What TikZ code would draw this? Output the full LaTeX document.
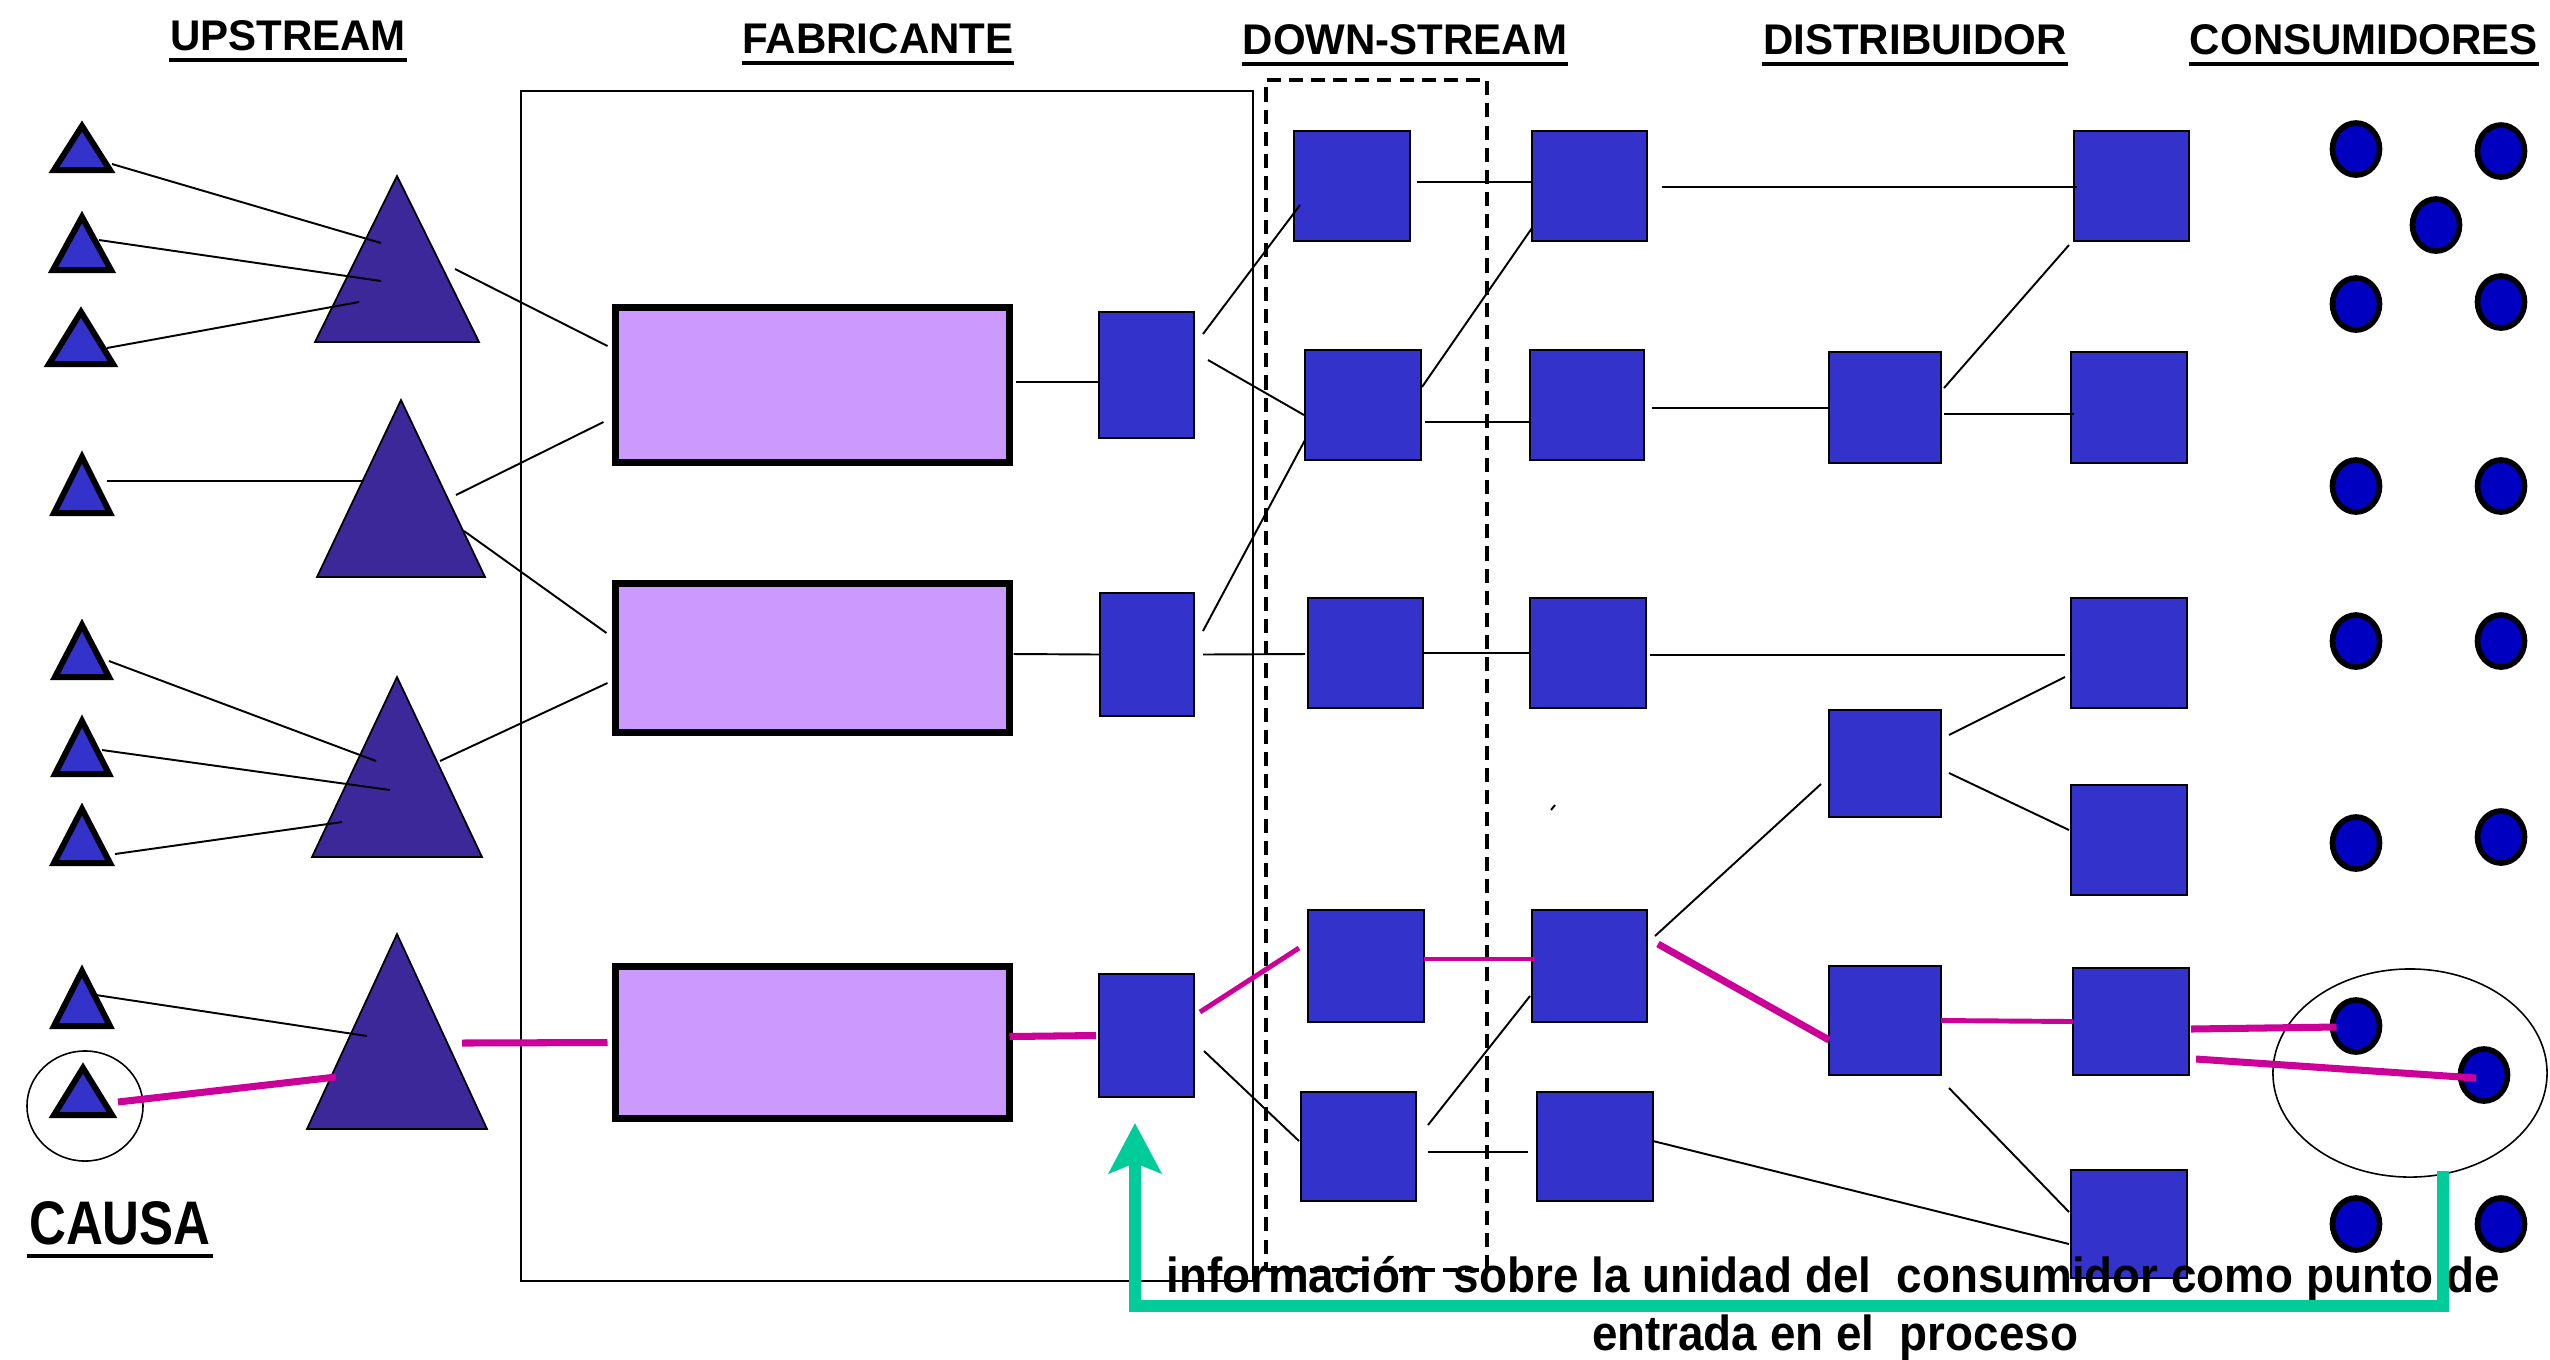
\documentclass[tikz,border=0pt]{standalone}
\usepackage{fontspec}
\usepackage{graphicx}
\setmainfont{Liberation Sans}
\usetikzlibrary{arrows.meta,shapes.geometric,fit,calc}
\definecolor{boxblue}{RGB}{51,51,204}
\definecolor{tridark}{RGB}{60,40,153}
\definecolor{lilac}{RGB}{204,153,255}
\definecolor{dotblue}{RGB}{0,0,192}
\definecolor{magline}{RGB}{204,0,153}
\definecolor{infogreen}{RGB}{0,204,153}

% name, cx, apex y, base y, outer half width
\newcommand{\smalltri}[5]{%
  \coordinate (#1) at (#2,#4);
  \filldraw[smalltri] (#2,#3+6) -- (#2+#5-5,#4-3) -- (#2-#5+5,#4-3) -- cycle;}
% name, cx, apex y, base y, half width
\newcommand{\bigtri}[5]{%
  \coordinate (#1) at (#2,#4);
  \filldraw[bigtri] (#2,#3) -- (#2+#5,#4) -- (#2-#5,#4) -- cycle;}
\newcommand{\bbox}[5]{\node[bluebox,fit={(#2,#3) (#4,#5)}] (#1) {};}

\begin{document}
\begin{tikzpicture}[x=0.01cm,y=-0.01cm,
  smalltri/.style={fill=boxblue,draw=black,line width=1.7pt,line join=miter},
  bigtri/.style={fill=tridark,draw=black,line width=0.5pt},
  bluebox/.style={rectangle,draw=black,line width=0.7pt,fill=boxblue,inner sep=0pt,outer sep=0pt},
  purplebox/.style={rectangle,draw=black,line width=2pt,fill=lilac,inner sep=0pt,outer sep=0pt},
  dotnode/.style={ellipse,draw=black,line width=1.6pt,fill=dotblue,inner sep=0pt,outer sep=0pt,minimum width=0.47cm,minimum height=0.52cm},
  ring/.style={ellipse,draw=black,line width=0.45pt,inner sep=0pt},
  conn/.style={draw=black,line width=0.55pt},
  magthick/.style={draw=magline,line width=2pt},
  magthin/.style={draw=magline,line width=1.4pt},
  frame/.style={rectangle,draw=black,line width=0.65pt,inner sep=0pt,outer sep=0pt},
  dashframe/.style={rectangle,draw=black,line width=1.2pt,dash pattern=on 4pt off 2.3pt,inner sep=0pt,outer sep=0pt},
  heading/.style={font=\bfseries\fontsize{12.2}{14}\selectfont,inner sep=0pt,anchor=base},
  uline/.style={line width=1.2pt},
  infotext/.style={font=\bfseries\fontsize{14}{16.5}\selectfont,inner sep=0pt,anchor=base},
  infoarrow/.style={draw=infogreen,line width=3.5pt,line join=miter,-{Stealth[length=0.5cm,width=0.52cm,inset=0.1cm]}}
]
\useasboundingbox (0,0) rectangle (2550,1359);
\fill[white] (0,0) rectangle (2550,1359);

% ---------- headings ----------
\node[heading] (hup)  at (288,50)  {\scalebox{0.98}[1]{UPSTREAM}};
\node[heading] (hfab) at (878,53)  {\scalebox{0.98}[1]{FABRICANTE}};
\node[heading] (hds)  at (1405,54) {\scalebox{0.98}[1]{DOWN-STREAM}};
\node[heading] (hdis) at (1915,54) {\scalebox{0.98}[1]{DISTRIBUIDOR}};
\node[heading] (hcon) at (2364,54) {\scalebox{0.98}[1]{CONSUMIDORES}};
\foreach \h in {hup,hfab,hds,hdis,hcon}
  \draw[uline] ([yshift=-2.8pt]\h.base west) -- ([yshift=-2.8pt]\h.base east);
\node[inner sep=0pt,anchor=base,font=\bfseries\fontsize{17.5}{20}\selectfont] (causa) at (120,1244) {\scalebox{0.83}[1]{CAUSA}};
\draw[line width=1.2pt] ([yshift=-3.4pt,xshift=-0.5pt]causa.base west) -- ([yshift=-3.4pt,xshift=0.5pt]causa.base east);

% ---------- frames ----------
\node[frame,fit={(521,91) (1253,1281)}] (fab) {};
\node[dashframe,fit={(1266,80) (1487,1270)}] (dsframe) {};

% ---------- upstream triangles ----------
\smalltri{t1}{82}{120}{173}{33}
\smalltri{t2}{82}{211}{273}{34}
\smalltri{t3}{81}{306}{367}{37}
\smalltri{t4}{82}{451}{516}{33}
\smalltri{t5}{82}{619}{680}{32}
\smalltri{t6}{82}{715}{777}{32}
\smalltri{t7}{82}{803}{866}{33}
\smalltri{t8}{82}{965}{1029}{33}
\smalltri{t9}{83}{1062}{1118}{34}
\node[ring,minimum width=1.16cm,minimum height=1.10cm] (ring1) at (85,1106) {};

\bigtri{T1}{397}{176}{342}{82}
\bigtri{T2}{401}{400}{577}{84}
\bigtri{T3}{397}{677}{857}{85}
\bigtri{T4}{397}{934}{1129}{90}

% ---------- manufacturer ----------
\node[purplebox,fit={(615.5,307.5) (1009.5,462.5)}] (P1) {};
\node[purplebox,fit={(615.5,583.5) (1009.5,732.5)}] (P2) {};
\node[purplebox,fit={(615.5,966.5) (1009.5,1118.5)}] (P3) {};

\bbox{B1}{1099}{312}{1194}{438}
\bbox{B2}{1100}{593}{1194}{716}
\bbox{B3}{1099}{974}{1194}{1097}

% ---------- down-stream ----------
\bbox{DS1}{1294}{131}{1410}{241}
\bbox{DS3}{1305}{350}{1421}{460}
\bbox{DS5}{1308}{598}{1423}{708}
\bbox{DS7}{1308}{910}{1424}{1022}
\bbox{DS9}{1301}{1092}{1416}{1201}
\bbox{DS2}{1532}{131}{1647}{241}
\bbox{DS4}{1530}{350}{1644}{460}
\bbox{DS6}{1530}{598}{1646}{708}
\bbox{DS8}{1532}{910}{1647}{1022}
\bbox{DS10}{1537}{1092}{1653}{1201}

% ---------- distributor ----------
\bbox{DB1}{1829}{352}{1941}{463}
\bbox{DB2}{1829}{710}{1941}{817}
\bbox{DB3}{1829}{966}{1941}{1075}
\bbox{D1}{2074}{131}{2189}{241}
\bbox{D2}{2071}{352}{2187}{463}
\bbox{D3}{2071}{598}{2187}{708}
\bbox{D4}{2071}{785}{2187}{895}
\bbox{D5}{2073}{968}{2189}{1075}
\bbox{D6}{2071}{1170}{2187}{1278}

% ---------- consumers ----------
\node[dotnode] (c1)  at (2356,149) {};
\node[dotnode] (c2)  at (2501,151) {};
\node[dotnode] (c3)  at (2436,225) {};
\node[dotnode] (c4)  at (2356,304) {};
\node[dotnode] (c5)  at (2501,302) {};
\node[dotnode] (c6)  at (2356,486) {};
\node[dotnode] (c7)  at (2501,486) {};
\node[dotnode] (c8)  at (2356,641) {};
\node[dotnode] (c9)  at (2501,641) {};
\node[dotnode] (c10) at (2356,843) {};
\node[dotnode] (c11) at (2501,837) {};
\node[dotnode] (cA)  at (2356,1026) {};
\node[dotnode] (cB)  at (2484,1075) {};
\node[dotnode] (c12) at (2356,1224) {};
\node[dotnode] (c13) at (2501,1224) {};
\node[ring,minimum width=2.74cm,minimum height=2.08cm] (ring2) at (2410,1073) {};

% ---------- black connectors ----------
\draw[conn] ($(t1)+(30,-9)$) -- ($(T1)+(-16,-99)$);
\draw[conn] ($(t2)+(17,-33)$) -- ($(T1)+(-16,-61)$);
\draw[conn] ($(t3)+(26,-19)$) -- ($(T1)+(-38,-40)$);
\draw[conn] ($(T1)+(58,-73)$) -- ($(P1.west)+(-8,-39)$);
\draw[conn] ($(t4)+(25,-35)$) -- ($(T2)+(-37,-96)$);
\draw[conn] ($(T2)+(55,-82)$) -- ($(P1.west)+(-12,37)$);
\draw[conn] ($(T2)+(63,-46)$) -- ($(P2.west)+(-9,-25)$);
\draw[conn] ($(t5)+(27,-19)$) -- ($(T3)+(-21,-96)$);
\draw[conn] ($(t6)+(20,-27)$) -- ($(T3)+(-7,-67)$);
\draw[conn] ($(t7)+(33,-12)$) -- ($(T3)+(-55,-35)$);
\draw[conn] ($(T3)+(43,-96)$) -- ($(P2.west)+(-8,25)$);
\draw[conn] ($(t8)+(14,-34)$) -- ($(T4)+(-30,-93)$);

\draw[conn] ($(P1.east)+(6,-3)$) -- ($(B1.west)+(0,7)$);
\draw[conn] ($(P2.east)+(4,-4)$) -- (B2.west);
\draw[conn] ($(B1.east)+(9,-41)$) -- ($(DS1.west)+(6,19)$);
\draw[conn] ($(B1.east)+(14,-15)$) -- ($(DS3.west)+(-1,10)$);
\draw[conn] ($(B2.east)+(9,-23.5)$) -- ($(DS3.west)+(0,35)$);
\draw[conn] ($(DS3.east)+(1,-18)$) -- ($(DS2.west)+(0,42)$);
\draw[conn] ($(DS3.east)+(4,17)$) -- ($(DS4.west)+(0,17)$);
\draw[conn] ($(B2.east)+(9,0)$) -- ($(DS5.west)+(-3,1)$);
\draw[conn] (DS5.east) -- (DS6.west);
\draw[conn] ($(DS6.east)+(4,2)$) -- ($(D3.west)+(-6,2)$);
\draw[conn] ($(DS1.east)+(7,-4)$) -- ($(DS2.west)+(0,-4)$);
\draw[conn] ($(DS2.east)+(15,1)$) -- ($(D1.west)+(3,1)$);
\draw[conn] ($(DS4.east)+(8,3)$) -- ($(DB1.west)+(0,0.5)$);
\draw[conn] ($(DB1.east)+(3,6.5)$) -- ($(D2.west)+(3,6.5)$);
\draw[conn] ($(DB1.east)+(3,-19.5)$) -- ($(D1.west)+(-5,59)$);
\draw[conn] ($(DB2.east)+(8,-28.5)$) -- ($(D3.west)+(-6,24)$);
\draw[conn] ($(DB2.east)+(8,9.5)$) -- ($(D4.west)+(-2,-10)$);
\draw[conn] ($(DS8.east)+(8,-30)$) -- ($(DB2.west)+(-8,20.5)$);
\draw[conn] ($(B3.east)+(10,15.5)$) -- ($(DS9.west)+(-2,-5.5)$);
\draw[conn] ($(DS9.east)+(12,-21.5)$) -- ($(DS8.west)+(-2,30)$);
\draw[conn] ($(DS9.east)+(12,5.5)$) -- ($(DS10.west)+(-9,5.5)$);
\draw[conn] ($(DS10.east)+(0,-5.5)$) -- ($(D6.west)+(-2,20)$);
\draw[conn] ($(DB3.east)+(8,67.5)$) -- ($(D6.west)+(-2,-12)$);
% tiny stray mark
\draw[conn] (1551,810) -- (1555,805);

% ---------- magenta path (cause) ----------
\draw[magthick] ($(t9)+(35,-16)$) -- ($(T4)+(-61,-52)$);
\draw[magthick] ($(T4)+(65,-86)$) -- ($(P3.west)+(-8,0)$);
\draw[magthick] ($(P3.east)+(0,-6)$) -- ($(B3.west)+(-3,0)$);
\draw[magthin] ($(B3.east)+(6,-23.5)$) -- ($(DS7.west)+(-9,-18)$);
\draw[magthin] ($(DS7.east)+(0,-7)$) -- ($(DS8.west)+(3,-7)$);
\draw[magthick] ($(DS8.east)+(11,-22)$) -- ($(DB3.west)+(0,19.5)$);
\draw[magthin] (DB3.east) -- (D5.west);
\draw[magthick] ($(D5.east)+(2,7.5)$) -- ($(cA.west)+(4,1)$);
\draw[magthick] ($(D5.east)+(7,37.5)$) -- ($(cB.center)+(-8,3)$);

% ---------- text ----------
\node[infotext] (info1) at (1833,1292) {\scalebox{0.93}[1]{información\ \ sobre la unidad del\ \ consumidor como punto de}};
\node[infotext] (info2) at (1835,1350) {\scalebox{0.93}[1]{entrada en el\ \ proceso}};

% ---------- green feedback arrow ----------
\coordinate (gs) at (2443,1171);
\coordinate (gtip) at (1135,1123);
\draw[infoarrow] (gs) -- ++(0,135) -| (gtip);
\end{tikzpicture}
\end{document}
